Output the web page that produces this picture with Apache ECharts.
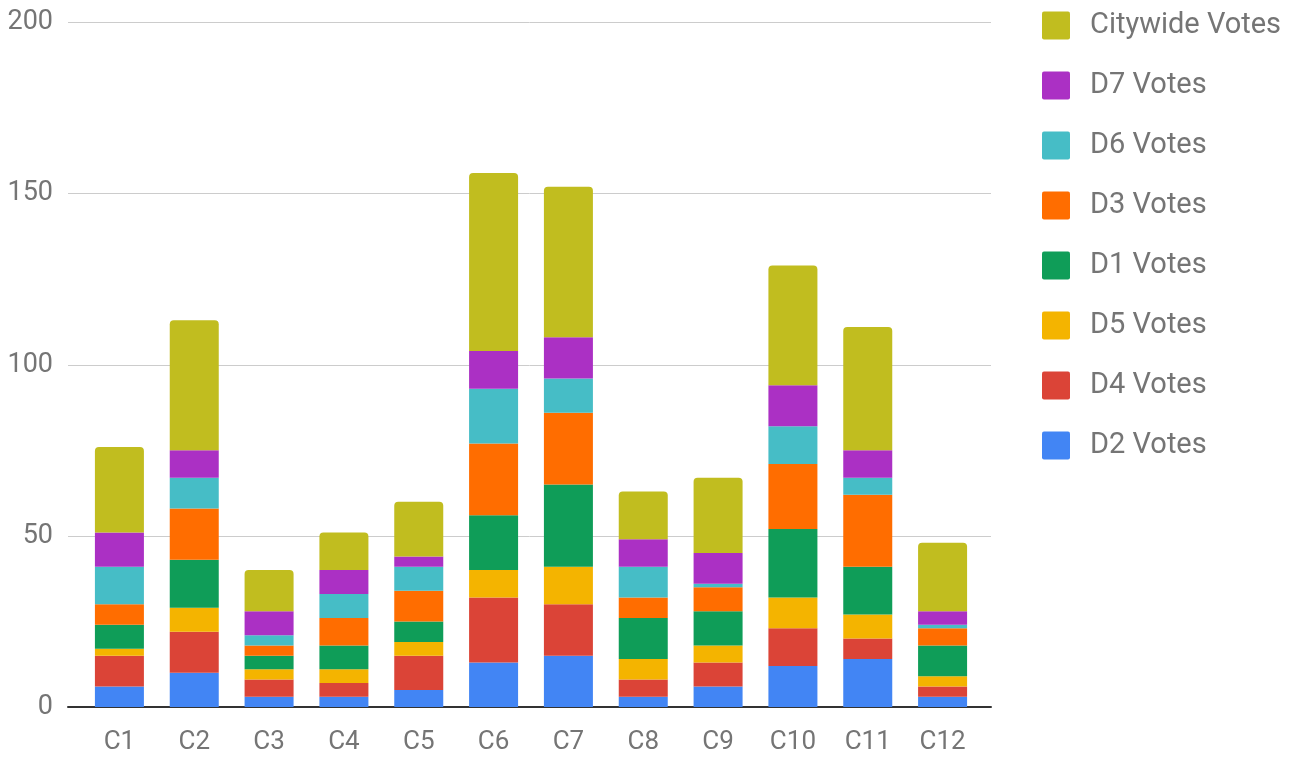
<!DOCTYPE html>
<html>
<head>
<meta charset="utf-8">
<script src="https://cdn.jsdelivr.net/npm/echarts@6/dist/echarts.min.js"></script>
<style>
html,body{margin:0;padding:0;background:#fff;}
#chart{width:1297px;height:757px;}
</style>
</head>
<body>
<div id="chart"></div>
<script>
var categories = ['C1','C2','C3','C4','C5','C6','C7','C8','C9','C10','C11','C12'];
var d2Votes = [6, 10, 3, 3, 5, 13, 15, 3, 6, 12, 14, 3];
var d4Votes = [9, 12, 5, 4, 10, 19, 15, 5, 7, 11, 6, 3];
var d5Votes = [2, 7, 3, 4, 4, 8, 11, 6, 5, 9, 7, 3];
var d1Votes = [7, 14, 4, 7, 6, 16, 24, 12, 10, 20, 14, 9];
var d3Votes = [6, 15, 3, 8, 9, 21, 21, 6, 7, 19, 21, 5];
var d6Votes = [11, 9, 3, 7, 7, 16, 10, 9, 1, 11, 5, 1];
var d7Votes = [10, 8, 7, 7, 3, 11, 12, 8, 9, 12, 8, 4];
var citywideVotes = [25, 38, 12, 11, 16, 52, 44, 14, 22, 35, 36, 20];
var yTicks = [0, 50, 100, 150, 200];

var seriesDefs = [
  {name: 'D2 Votes', data: d2Votes, color: '#4285F4'},
  {name: 'D4 Votes', data: d4Votes, color: '#DB4437'},
  {name: 'D5 Votes', data: d5Votes, color: '#F4B400'},
  {name: 'D1 Votes', data: d1Votes, color: '#0F9D58'},
  {name: 'D3 Votes', data: d3Votes, color: '#FF6D00'},
  {name: 'D6 Votes', data: d6Votes, color: '#46BDC6'},
  {name: 'D7 Votes', data: d7Votes, color: '#AB30C4'},
  {name: 'Citywide Votes', data: citywideVotes, color: '#C1BD1F'}
];

var textColor = '#757575';
var fontFamily = 'Roboto, "Noto Sans", sans-serif';

var chart = echarts.init(document.getElementById('chart'), null, {renderer: 'canvas'});
var option = {
  animation: false,
  backgroundColor: '#ffffff',
  grid: [
    {left: 82, right: 317, top: 22.5, bottom: 50, containLabel: false},
    {left: 68, right: 306, top: 22.5, bottom: 50, containLabel: false}
  ],
  legend: {
    orient: 'vertical',
    left: 1037,
    top: 6,
    itemWidth: 28,
    itemHeight: 28,
    itemGap: 31,
    icon: 'path://M2,0 L26,0 Q28,0 28,2 L28,26 Q28,28 26,28 L2,28 Q0,28 0,26 L0,2 Q0,0 2,0 Z',
    data: seriesDefs.map(function (s) { return s.name; }).reverse(),
    textStyle: {color: textColor, fontSize: 29, lineHeight: 28, fontFamily: fontFamily, padding: [0, 0, 0, 15]}
  },
  xAxis: [
    {
      type: 'category', gridIndex: 0, data: categories,
      axisLine: {show: false}, axisTick: {show: false},
      axisLabel: {color: textColor, fontSize: 26, fontFamily: fontFamily, margin: 22}
    },
    {
      type: 'category', gridIndex: 1, data: [''],
      axisLine: {show: true, lineStyle: {color: '#333333', width: 2}},
      axisTick: {show: false}, axisLabel: {show: false}
    }
  ],
  yAxis: [
    {
      type: 'value', gridIndex: 0, min: 0, max: 200, interval: 50,
      axisLine: {show: false}, axisTick: {show: false}, axisLabel: {show: false},
      splitLine: {show: false}
    },
    {
      type: 'value', gridIndex: 1, min: yTicks[0], max: yTicks[yTicks.length - 1], interval: 50,
      axisLine: {show: false}, axisTick: {show: false},
      axisLabel: {color: textColor, fontSize: 27, fontFamily: fontFamily, margin: 15},
      splitLine: {show: true, lineStyle: {color: '#cccccc', width: 1}}
    }
  ],
  series: seriesDefs.map(function (s, i) {
    return {
      name: s.name,
      type: 'bar',
      stack: 'votes',
      xAxisIndex: 0,
      yAxisIndex: 0,
      barWidth: 49,
      data: s.data,
      itemStyle: {
        color: s.color,
        borderRadius: i === seriesDefs.length - 1 ? [4, 4, 0, 0] : 0
      }
    };
  })
};
chart.setOption(option);
</script>
</body>
</html>
